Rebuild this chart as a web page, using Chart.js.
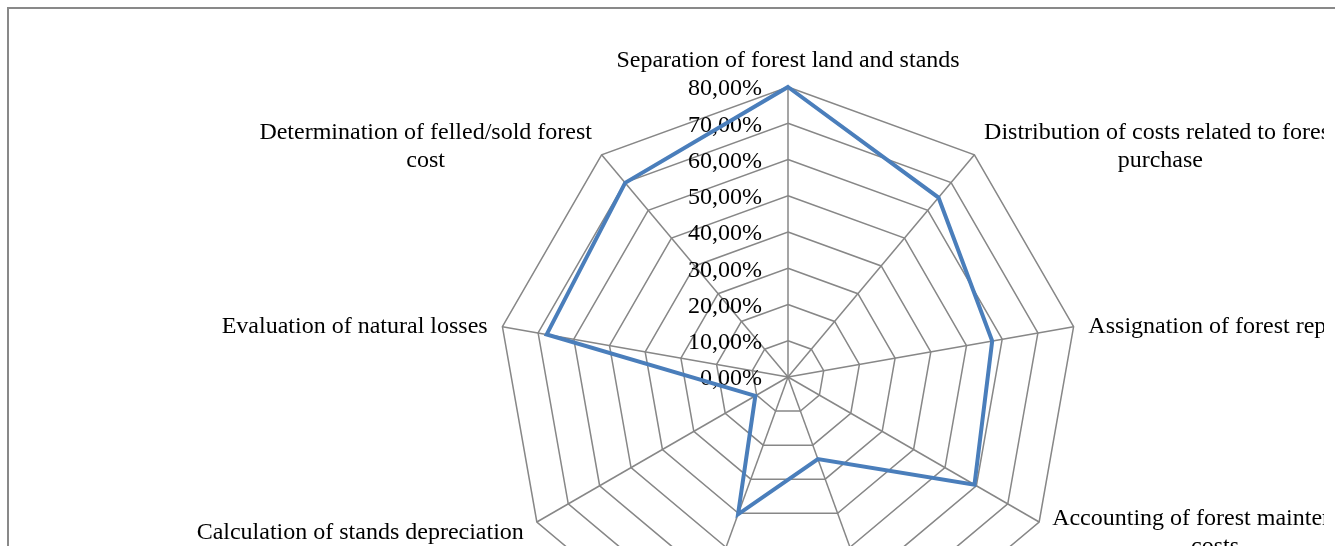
<!DOCTYPE html>
<html>
<head>
<meta charset="utf-8">
<script src="https://cdn.jsdelivr.net/npm/chart.js@4.4.0/dist/chart.umd.min.js"></script>
<style>
html,body{margin:0;padding:0;background:#fff;overflow:hidden;width:1335px;height:546px;}
#c{position:absolute;left:0;top:0;}
</style>
</head>
<body>
<canvas id="c" width="1400" height="760"></canvas>
<script>
// ---- data ----
const categories = [
  ["Separation of forest land and stands"],
  ["Distribution of costs related to forest", "purchase"],
  ["Assignation of forest replanting"],
  ["Accounting of forest maintenance", "costs"],
  ["Accounting of forest sales", "revenue"],
  ["Valuation of standing", "timber"],
  ["Calculation of stands depreciation"],
  ["Evaluation of natural losses"],
  ["Determination of felled/sold forest", "cost"]
];
const shares = [80, 64.6, 57.2, 59.4, 24.1, 40.3, 10.4, 67.6, 69.9];
const tickValues = [0, 10, 20, 30, 40, 50, 60, 70, 80];
const tickLabels = ["0,00%", "10,00%", "20,00%", "30,00%", "40,00%", "50,00%", "60,00%", "70,00%", "80,00%"];

const FONT = '24px "Liberation Serif", "Times New Roman", serif';

const textPlugin = {
  id: 'textPlugin',
  beforeDraw(chart) {
    const ctx = chart.ctx;
    ctx.save();
    ctx.strokeStyle = '#898989';
    ctx.lineWidth = 2;
    ctx.strokeRect(8, 8, 2000, 2000);
    ctx.restore();
  },
  beforeDatasetsDraw(chart) {
    const s = chart.scales.r;
    const ctx = chart.ctx;
    ctx.save();
    ctx.beginPath();
    ctx.rect(0, 0, 1324, 2000);
    ctx.clip();
    ctx.font = FONT;
    ctx.fillStyle = '#000';
    ctx.textBaseline = 'middle';
    ctx.textAlign = 'right';
    tickValues.forEach((v, i) => {
      const d = s.getDistanceFromCenterForValue(v);
      ctx.fillText(tickLabels[i], s.xCenter - 26, s.yCenter - d + 2);
    });
    ctx.textAlign = 'center';
    const lh = 28;
    categories.forEach((lines, i) => {
      const p = s.getPointPosition(i, s.drawingArea + 15);
      const ang = s.getIndexAngle(i);
      const sn = Math.sin(ang), cs = Math.cos(ang);
      const w = Math.max(...lines.map(l => ctx.measureText(l).width));
      const h = lines.length * lh;
      let cx;
      if (Math.abs(sn) < 0.1) cx = p.x;
      else if (sn > 0) cx = p.x + w / 2;
      else cx = p.x - w / 2;
      let top;
      if (cs > 0.95) top = p.y - h;
      else if (cs < -0.95) top = p.y;
      else top = p.y - h / 2;
      lines.forEach((l, j) => ctx.fillText(l, cx, top + lh * j + lh / 2 + 3));
    });
    ctx.restore();
  }
};

new Chart(document.getElementById('c'), {
  type: 'radar',
  data: {
    labels: categories.map(c => c.join(' ')),
    datasets: [{
      data: shares,
      borderColor: '#4a7ebb',
      borderWidth: 4,
      fill: false,
      pointRadius: 0,
      pointHoverRadius: 0,
      backgroundColor: 'transparent'
    }]
  },
  options: {
    responsive: false,
    animation: false,
    devicePixelRatio: 1,
    layout: { padding: { left: 498, top: 87, right: 321, bottom: 92 } },
    plugins: { legend: { display: false }, tooltip: { enabled: false } },
    scales: {
      r: {
        min: 0,
        max: 80,
        ticks: { display: false, stepSize: 10 },
        pointLabels: { display: false },
        grid: { color: '#878787', lineWidth: 1.5 },
        angleLines: { color: '#878787', lineWidth: 1.5 }
      }
    }
  },
  plugins: [textPlugin]
});
</script>
</body>
</html>
